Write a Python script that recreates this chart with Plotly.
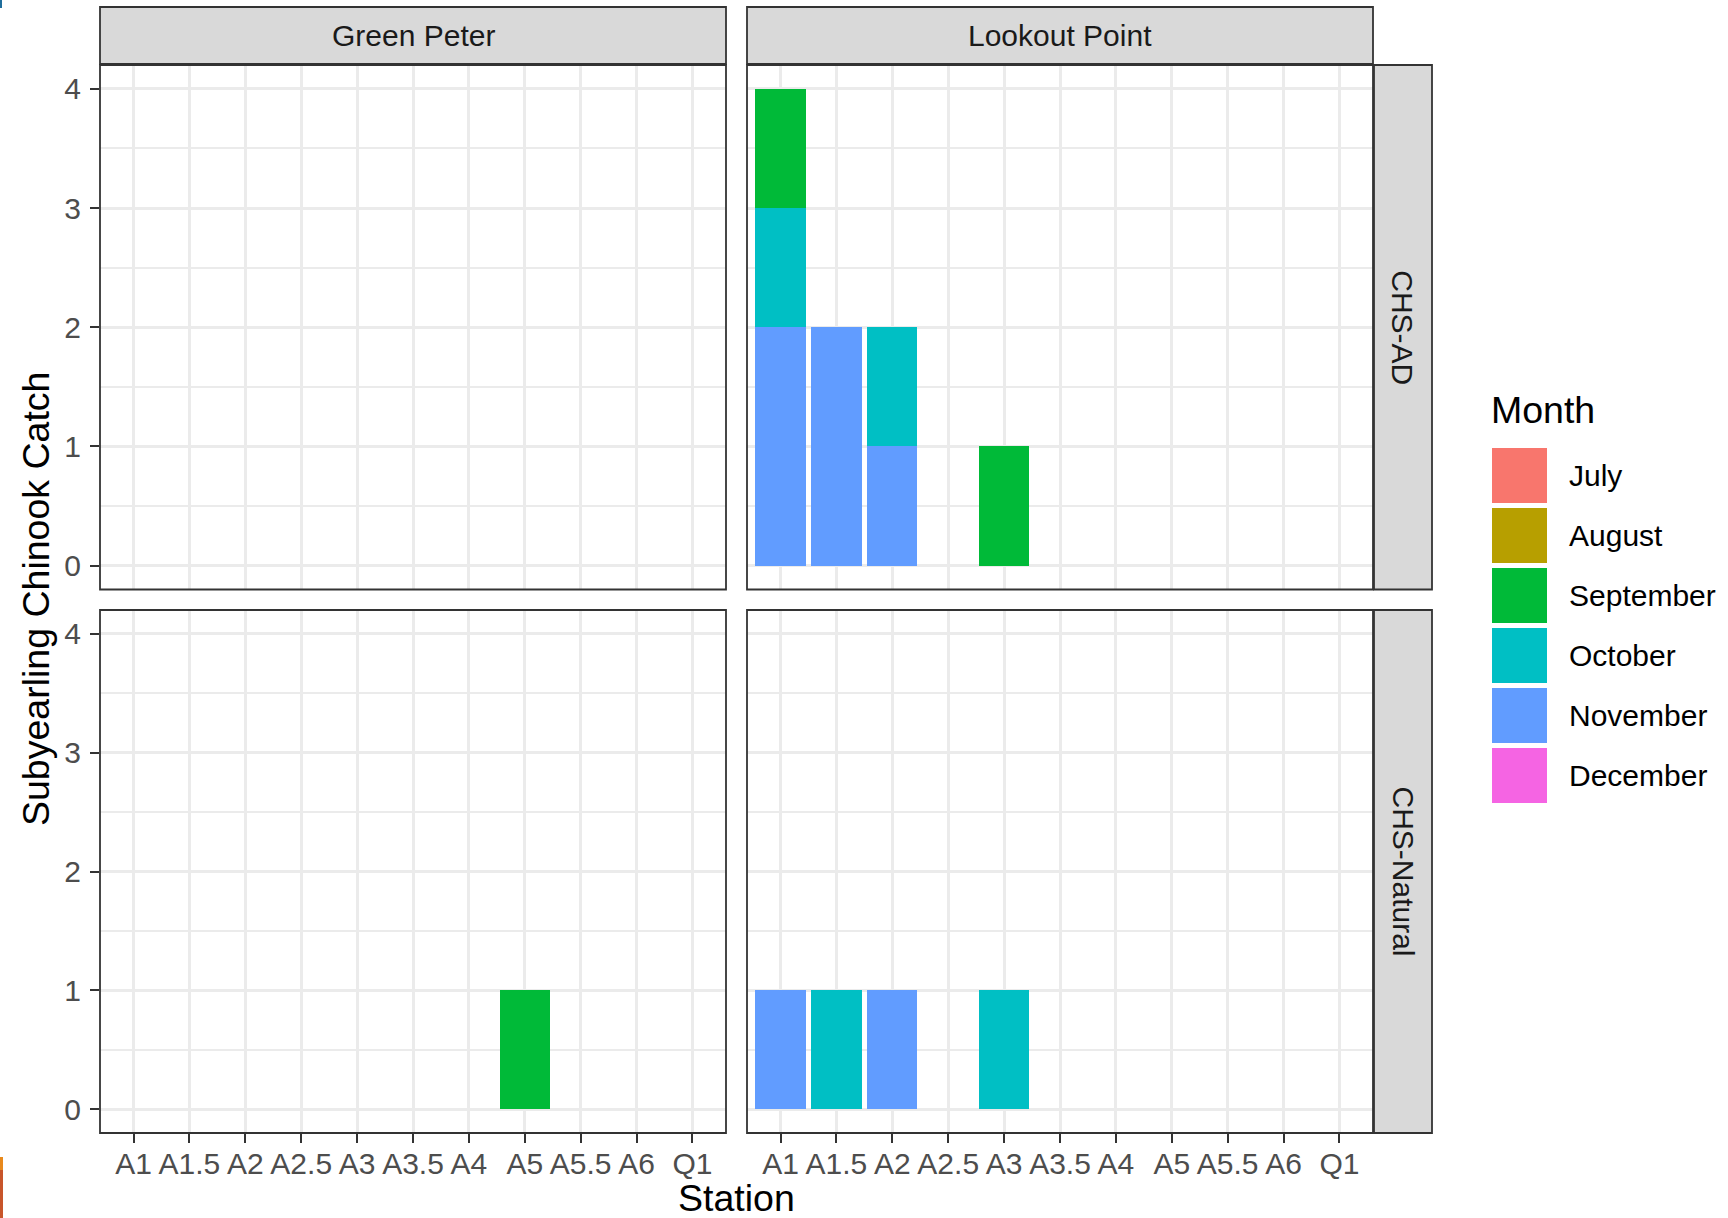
import plotly.graph_objects as go

# ---------------- data ----------------
stations = ["A1", "A1.5", "A2", "A2.5", "A3", "A3.5", "A4", "A5", "A5.5", "A6", "Q1"]
reservoirs = ["Green Peter", "Lookout Point"]
origins = ["CHS-AD", "CHS-Natural"]
months = ["July", "August", "September", "October", "November", "December"]
month_colors = ["#F8766D", "#B79F00", "#00BA38", "#00BFC4", "#619CFF", "#F564E3"]

catch_reservoir = ["Lookout Point"] * 11 + ["Green Peter"]
catch_origin = ["CHS-AD"] * 7 + ["CHS-Natural"] * 5
catch_station = ["A1", "A1", "A1", "A1.5", "A2", "A2", "A3",
                 "A1", "A1.5", "A2", "A3", "A5"]
catch_month = ["November", "October", "September", "November", "November", "October", "September",
               "November", "October", "November", "October", "September"]
catch_count = [2, 1, 1, 2, 1, 1, 1,
               1, 1, 1, 1, 1]

y_ticks = [0, 1, 2, 3, 4]

# ---------------- layout geometry (pixels) ----------------
W, H = 1728, 1218
def px(x): return x / W
def py(y): return 1 - y / H

col_px = [(100, 726), (747, 1373)]
row_px = [(65, 589.5), (610, 1133)]
top_strip = (7, 64)
right_strip = (1374, 1432)

font_family = "Liberation Sans, Arial, sans-serif"
border_col = "#333333"
grid_col = "#EBEBEB"

fig = go.Figure()

for r, origin in enumerate(origins):
    for c, res in enumerate(reservoirs):
        n = r * 2 + c + 1
        xa = "x" if n == 1 else f"x{n}"
        ya = "y" if n == 1 else f"y{n}"
        # invisible placeholder so every panel is drawn, even when empty
        fig.add_trace(go.Scatter(x=[None], y=[None], xaxis=xa, yaxis=ya, mode="markers",
                                 showlegend=False, hoverinfo="skip"))
        for m in reversed(months):  # later levels at the bottom (ggplot stacking)
            xs, ys = [], []
            for rr, oo, st, mm, cc in zip(catch_reservoir, catch_origin, catch_station, catch_month, catch_count):
                if rr == res and oo == origin and mm == m:
                    xs.append(st)
                    ys.append(cc)
            if not xs:
                continue
            fig.add_trace(go.Bar(
                x=xs, y=ys, xaxis=xa, yaxis=ya, name=m,
                marker=dict(color=month_colors[months.index(m)], line=dict(width=0)),
                width=0.9, showlegend=False,
            ))
        xkey = "xaxis" if n == 1 else f"xaxis{n}"
        ykey = "yaxis" if n == 1 else f"yaxis{n}"
        x0, x1 = col_px[c]
        y0, y1 = row_px[r]
        bottom = (r == 1)
        left = (c == 0)
        fig.update_layout({
            xkey: dict(
                domain=[px(x0), px(x1)], anchor=ya,
                type="category", categoryorder="array", categoryarray=stations,
                tickvals=stations, ticktext=stations,
                range=[-0.6, len(stations) - 0.4],
                showgrid=True, gridcolor=grid_col, gridwidth=2.5,
                showline=False, zeroline=False,
                ticks="outside" if bottom else "", ticklen=9, tickwidth=2, tickcolor=border_col,
                showticklabels=bottom, ticklabelstandoff=-5,
                tickfont=dict(family=font_family, size=30, color="#4D4D4D"),
                fixedrange=True,
            ),
            ykey: dict(
                domain=[py(y1), py(y0)], anchor=xa,
                range=[-0.2, 4.2], tickvals=y_ticks, ticktext=[str(v) for v in y_ticks],
                showgrid=True, gridcolor=grid_col, gridwidth=2.5,
                minor=dict(showgrid=True, gridcolor=grid_col, gridwidth=1.6, dtick=0.5, tick0=0),
                showline=False, zeroline=False,
                ticks="outside" if left else "", ticklen=9, tickwidth=2, tickcolor=border_col,
                showticklabels=left, ticklabelstandoff=3,
                tickfont=dict(family=font_family, size=30, color="#4D4D4D"),
                fixedrange=True,
            ),
        })
        # panel border
        fig.add_shape(type="rect", xref="paper", yref="paper",
                      x0=px(x0), x1=px(x1), y0=py(y1), y1=py(y0),
                      line=dict(color=border_col, width=1.8), fillcolor="rgba(0,0,0,0)", layer="above")

# top strips
for c, res in enumerate(reservoirs):
    x0, x1 = col_px[c]
    fig.add_shape(type="rect", xref="paper", yref="paper",
                  x0=px(x0), x1=px(x1), y0=py(top_strip[1]), y1=py(top_strip[0]),
                  line=dict(color=border_col, width=1.8), fillcolor="#D9D9D9", layer="above")
    fig.add_annotation(x=px((x0 + x1) / 2), y=py((top_strip[0] + top_strip[1]) / 2),
                       xref="paper", yref="paper", text=res, showarrow=False,
                       font=dict(family=font_family, size=30, color="#1A1A1A"),
                       xanchor="center", yanchor="middle")

# right strips
for r, origin in enumerate(origins):
    y0, y1 = row_px[r]
    fig.add_shape(type="rect", xref="paper", yref="paper",
                  x0=px(right_strip[0]), x1=px(right_strip[1]), y0=py(y1), y1=py(y0),
                  line=dict(color=border_col, width=1.8), fillcolor="#D9D9D9", layer="above")
    fig.add_annotation(x=px((right_strip[0] + right_strip[1]) / 2), y=py((y0 + y1) / 2),
                       xref="paper", yref="paper", text=origin, showarrow=False, textangle=90,
                       font=dict(family=font_family, size=30, color="#1A1A1A"),
                       xanchor="center", yanchor="middle")

# axis titles
fig.add_annotation(x=px(736.5), y=py(1198), xref="paper", yref="paper", text="Station",
                   showarrow=False, font=dict(family=font_family, size=37.5, color="#000000"),
                   xanchor="center", yanchor="middle")
fig.add_annotation(x=px(36), y=py(599), xref="paper", yref="paper", text="Subyearling Chinook Catch",
                   showarrow=False, textangle=-90, font=dict(family=font_family, size=37.5, color="#000000"),
                   xanchor="center", yanchor="middle")

# legend (drawn manually, ggplot style)
fig.add_annotation(x=px(1489), y=py(410), xref="paper", yref="paper", text="Month",
                   showarrow=False, font=dict(family=font_family, size=37.5, color="#000000"),
                   xanchor="left", yanchor="middle")
for i, (m, col) in enumerate(zip(months, month_colors)):
    ky0 = 448 + i * 60
    fig.add_shape(type="rect", xref="paper", yref="paper",
                  x0=px(1492), x1=px(1547), y0=py(ky0 + 55), y1=py(ky0),
                  line=dict(width=0), fillcolor=col)
    fig.add_annotation(x=px(1567), y=py(ky0 + 27.5), xref="paper", yref="paper", text=m,
                       showarrow=False, font=dict(family=font_family, size=30, color="#000000"),
                       xanchor="left", yanchor="middle")

# slide-edge artifacts seen in the reference
fig.add_shape(type="rect", xref="paper", yref="paper", x0=0, x1=px(2), y0=py(8), y1=1,
              line=dict(width=0), fillcolor="#1F6E9C")
fig.add_shape(type="rect", xref="paper", yref="paper", x0=0, x1=px(3), y0=py(1170), y1=py(1157),
              line=dict(width=0), fillcolor="#E8891C")
fig.add_shape(type="rect", xref="paper", yref="paper", x0=0, x1=px(3), y0=0, y1=py(1170),
              line=dict(width=0), fillcolor="#C8552A")

fig.update_layout(
    width=W, height=H, margin=dict(l=0, r=0, t=0, b=0),
    barmode="stack", bargap=0,
    paper_bgcolor="white", plot_bgcolor="white",
    showlegend=False, template="none",
    font=dict(family=font_family),
)

fig.write_html("out.html")
